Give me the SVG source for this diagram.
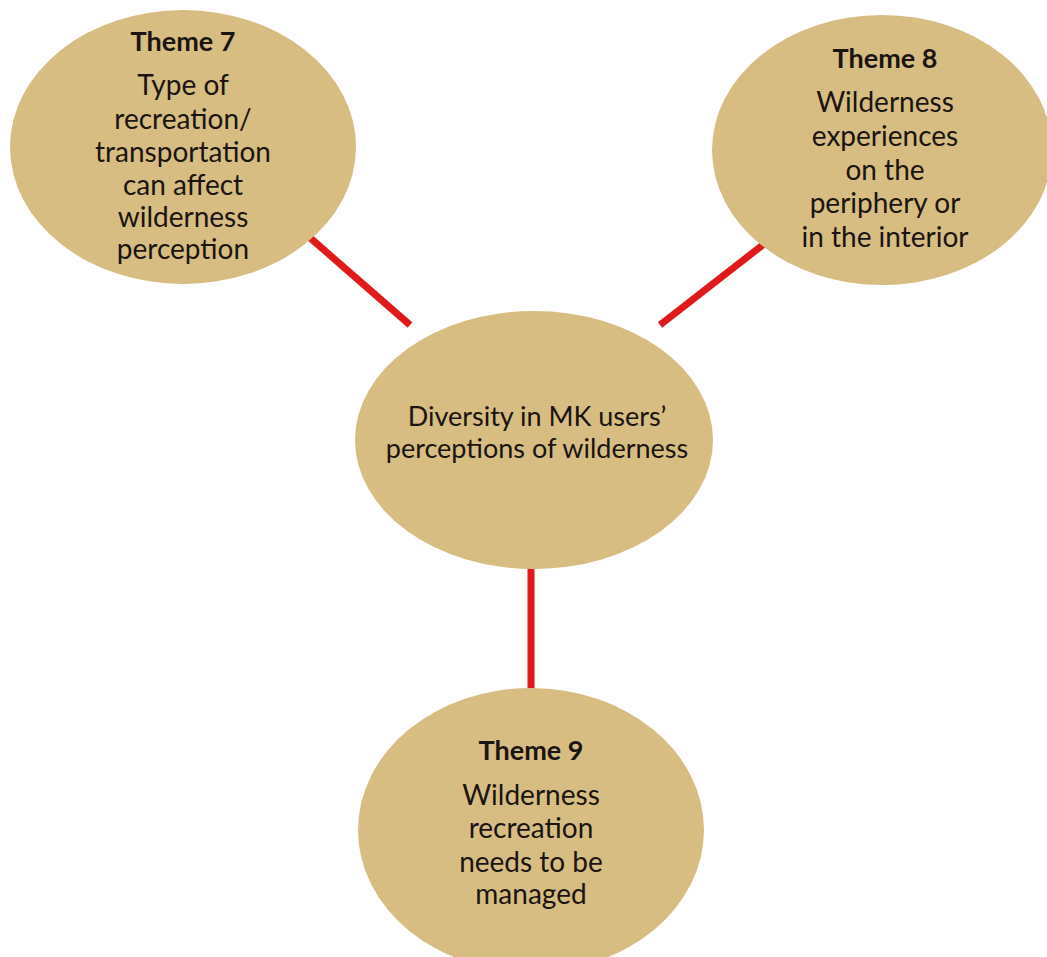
<svg xmlns="http://www.w3.org/2000/svg" width="1047" height="957" viewBox="0 0 1047 957">
<style>
.node{fill:#D7BD82;}
.t{font-family:Lato,"Liberation Sans",sans-serif;font-size:28px;fill:#1a1412;text-anchor:middle;}
.h{font-weight:bold;font-size:27px;}
.c{font-size:27px;}
.edge{stroke:#E0191B;stroke-width:7;fill:none;}
</style>
<rect width="1047" height="957" fill="#ffffff"/>
<g id="connectors">
<line class="edge" x1="308" y1="236" x2="410" y2="325"/>
<line class="edge" x1="764" y1="244" x2="660" y2="325"/>
<line class="edge" x1="531" y1="560" x2="531" y2="692"/>
</g>
<g id="theme7">
<ellipse class="node" cx="183" cy="147" rx="173" ry="137"/>
<text class="t h" x="183" y="51">Theme 7</text>
<text class="t" x="183" y="95">Type of</text>
<text class="t" x="183" y="129">recreation/</text>
<text class="t" x="183" y="162">transportation</text>
<text class="t" x="183" y="195">can affect</text>
<text class="t" x="183" y="227">wilderness</text>
<text class="t" x="183" y="259">perception</text>
</g>
<g id="theme8">
<ellipse class="node" cx="882" cy="150" rx="170" ry="135"/>
<text class="t h" x="885" y="68">Theme 8</text>
<text class="t" x="885" y="112">Wilderness</text>
<text class="t" x="885" y="146">experiences</text>
<text class="t" x="885" y="180">on the</text>
<text class="t" x="885" y="213">periphery or</text>
<text class="t" x="885" y="247">in the interior</text>
</g>
<g id="center">
<ellipse class="node" cx="534" cy="440" rx="179" ry="129"/>
<text class="t c" x="537" y="426">Diversity in MK users’</text>
<text class="t c" x="537" y="458">perceptions of wilderness</text>
</g>
<g id="theme9">
<ellipse class="node" cx="531" cy="830" rx="173" ry="142"/>
<text class="t h" x="531" y="760">Theme 9</text>
<text class="t" x="531" y="805">Wilderness</text>
<text class="t" x="531" y="838">recreation</text>
<text class="t" x="531" y="872">needs to be</text>
<text class="t" x="531" y="904">managed</text>
</g>
</svg>
